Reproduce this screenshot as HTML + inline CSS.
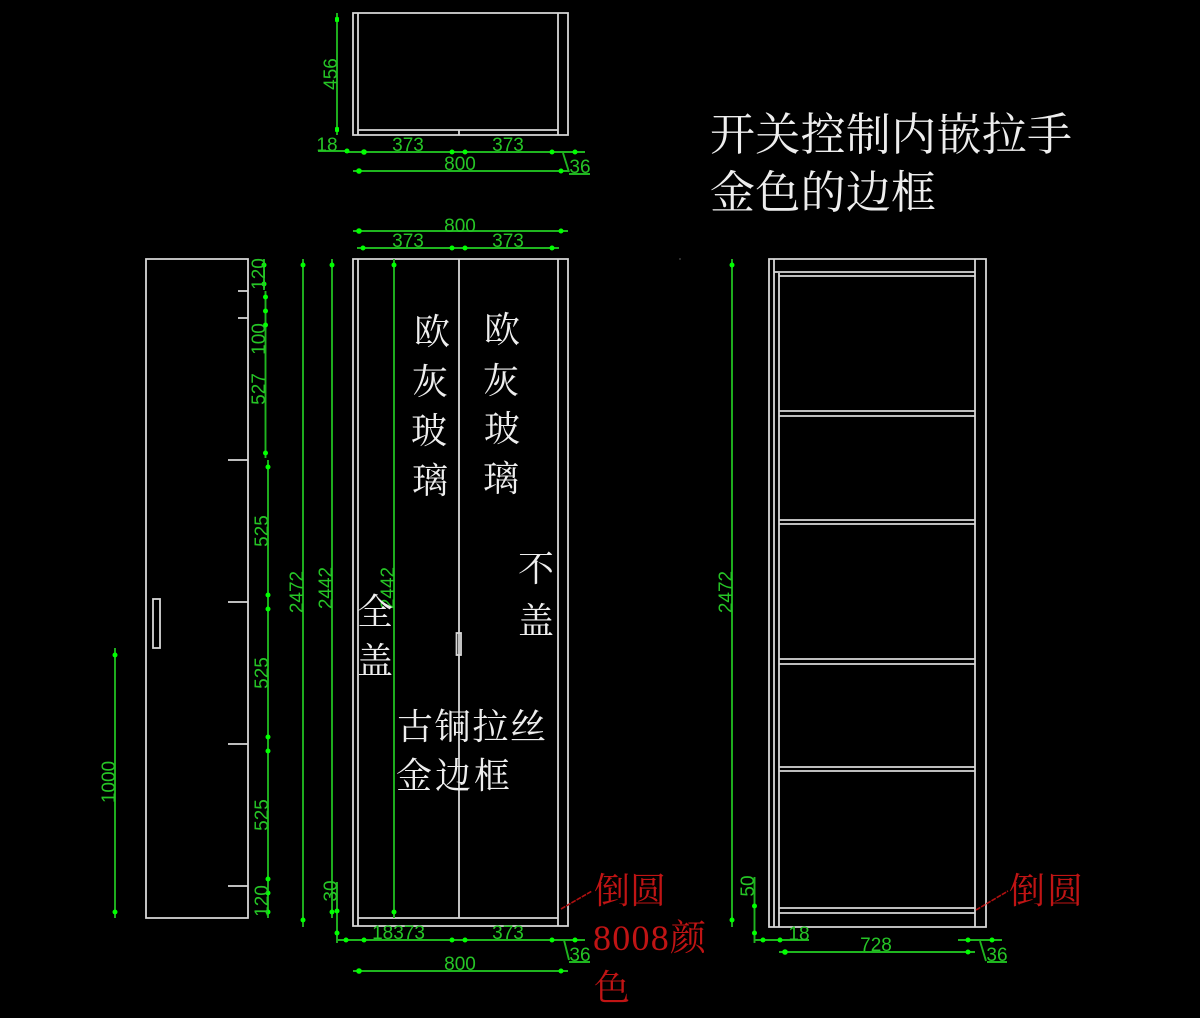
<!DOCTYPE html>
<html><head><meta charset="utf-8"><style>
html,body{margin:0;padding:0;background:#000;width:1200px;height:1018px;overflow:hidden}
svg{display:block}
.w{stroke:#d8d8d8;stroke-width:1.8;fill:none}
.g{stroke:#1fb51f;stroke-width:1.9;fill:none}
.r{stroke:#b01010;stroke-width:1.6;fill:none;stroke-dasharray:5 1}
.d{fill:#0f0}
.t{fill:#26c526;font:19px "Liberation Sans",sans-serif;text-anchor:middle}
.c{fill:#eee;font:36px "Noto Serif CJK SC","Liberation Serif",serif}
.b{fill:#eee;font:45px "Noto Serif CJK SC","Liberation Serif",serif}
.x{fill:#c01414;font:36px "Liberation Serif","Noto Serif CJK SC",serif}
</style></head><body>
<svg width="1200" height="1018" viewBox="0 0 1200 1018" xmlns="http://www.w3.org/2000/svg">
<rect width="1200" height="1018" fill="#000"/>
<!-- top view -->
<path class="w" d="M353 13H568V135H353ZM358 13V135M558 13V135M358 130H558M459 130V135"/>
<!-- front view -->
<path class="w" d="M353 259H568V926H353ZM358 259V926M558 259V926M358 918H558M459 259V918"/>
<rect class="w" x="456.500" y="633" width="4.500" height="22"/>
<!-- side view -->
<path class="w" d="M146 259H248V918H146ZM238 291H248M238 318H248M228 460H248M228 602H248M228 744H248M228 886H248"/>
<rect class="w" x="153" y="599" width="7" height="49"/>
<!-- right view -->
<path class="w" d="M769 259H986V927H769ZM774 259V927M779 273V927M975 259V927M774 272H975M779 276H975M779 411H975M779 416H975M779 520H975M779 524H975M779 659H975M779 664H975M779 767H975M779 771H975M779 908H975M779 913H975"/>
<!-- green lines -->
<path class="g" d="M337 13V135M318 151H345M345 152H585M353 171H568M569 174H590M563 153L569 172
M353 231H568M357 248H559
M264 259V290M265.500 291V458M268 460V918
M303 259V927M332 259V918M394 259V918M115 648V918
M337 882V943M337 940H585M353 971H568M569 962H590M564 940L569 960
M732 259V927M754.500 877V943M754 940H809M779 952H975M958 940H1002M980 941L986 961M987 962H1007"/>
<!-- dots -->
<g class="d">
<rect x="335" y="17" width="4" height="5" rx="1"/><rect x="335" y="127" width="4" height="5" rx="1"/>
<circle cx="347" cy="151" r="2.500"/><circle cx="364" cy="152" r="2.800"/><circle cx="452" cy="152" r="2.500"/><circle cx="465" cy="152" r="2.500"/><circle cx="552" cy="152" r="2.500"/><circle cx="575" cy="152" r="2.500"/>
<circle cx="359" cy="171" r="2.800"/><circle cx="561" cy="171" r="2.500"/>
<circle cx="359" cy="231" r="2.800"/><circle cx="561" cy="231" r="2.500"/>
<circle cx="363" cy="248" r="2.500"/><circle cx="452" cy="248" r="2.500"/><circle cx="465" cy="248" r="2.500"/><circle cx="552" cy="248" r="2.500"/>
<circle cx="264" cy="265" r="2.500"/><circle cx="264" cy="284" r="2.500"/><circle cx="265.500" cy="297" r="2.500"/><circle cx="265.500" cy="311" r="2.500"/><circle cx="265.500" cy="325" r="2.500"/><circle cx="265.500" cy="453" r="2.500"/>
<circle cx="268" cy="467" r="2.500"/><circle cx="268" cy="595" r="2.500"/><circle cx="268" cy="609" r="2.500"/><circle cx="268" cy="737" r="2.500"/><circle cx="268" cy="751" r="2.500"/><circle cx="268" cy="879" r="2.500"/><circle cx="268" cy="893" r="2.500"/><circle cx="268" cy="912" r="2.500"/>
<circle cx="303" cy="265" r="2.500"/><circle cx="303" cy="920" r="2.500"/>
<circle cx="332" cy="265" r="2.500"/><circle cx="332" cy="912" r="2.500"/>
<circle cx="394" cy="265" r="2.500"/><circle cx="394" cy="912" r="2.500"/>
<circle cx="115" cy="655" r="2.500"/><circle cx="115" cy="912" r="2.500"/>
<circle cx="337" cy="911" r="2.500"/><circle cx="337" cy="933" r="2.500"/>
<circle cx="346" cy="940" r="2.500"/><circle cx="364" cy="940" r="2.500"/><circle cx="452" cy="940" r="2.500"/><circle cx="465" cy="940" r="2.500"/><circle cx="552" cy="940" r="2.500"/><circle cx="575" cy="940" r="2.500"/>
<circle cx="359" cy="971" r="2.800"/><circle cx="561" cy="971" r="2.500"/>
<circle cx="732" cy="265" r="2.500"/><circle cx="732" cy="920" r="2.500"/>
<circle cx="754.500" cy="906" r="2.500"/><circle cx="754.500" cy="933" r="2.500"/>
<circle cx="763" cy="940" r="2.500"/><circle cx="780" cy="940" r="2.500"/>
<circle cx="785" cy="952" r="2.800"/><circle cx="968" cy="952" r="2.500"/>
<circle cx="968" cy="940" r="2.500"/><circle cx="992" cy="940" r="2.500"/>
</g>
<!-- green text -->
<g class="t">
<text transform="translate(337 74) rotate(-90)">456</text>
<text x="327" y="151">18</text>
<text x="408" y="151">373</text><text x="508" y="151">373</text>
<text x="460" y="170">800</text><text x="580" y="173">36</text>
<text x="460" y="232">800</text>
<text x="408" y="247">373</text><text x="508" y="247">373</text>
<text transform="translate(265 274) rotate(-90)">120</text>
<text transform="translate(265 339) rotate(-90)">100</text>
<text transform="translate(265 389) rotate(-90)">527</text>
<text transform="translate(268 531) rotate(-90)">525</text>
<text transform="translate(268 673) rotate(-90)">525</text>
<text transform="translate(268 815) rotate(-90)">525</text>
<text transform="translate(268 901) rotate(-90)">120</text>
<text transform="translate(303 592) rotate(-90)">2472</text>
<text transform="translate(332 588) rotate(-90)">2442</text>
<text transform="translate(394 588) rotate(-90)">2442</text>
<text transform="translate(115 782) rotate(-90)">1000</text>
<text transform="translate(337 891) rotate(-90)">30</text>
<text x="398.500" y="939">18373</text><text x="508" y="939">373</text>
<text x="580" y="961">36</text><text x="460" y="970">800</text>
<text transform="translate(732 592) rotate(-90)">2472</text>
<text transform="translate(754 886) rotate(-90)">50</text>
<text x="799" y="940">18</text><text x="876" y="951">728</text><text x="997" y="961">36</text>
</g>
<!-- white text -->
<text class="b" x="710" y="150" textLength="362">开关控制内嵌拉手</text>
<text class="b" x="710" y="208" textLength="226">金色的边框</text>
<g class="c">
<text x="414" y="344">欧</text><text x="412" y="394">灰</text><text x="411" y="443">玻</text><text x="412" y="493">璃</text>
<text x="484" y="342">欧</text><text x="483" y="393">灰</text><text x="484" y="441">玻</text><text x="483" y="491">璃</text>
<text x="518" y="581">不</text><text x="518" y="633">盖</text>
<text x="357" y="624">全</text><text x="357" y="673">盖</text>
<text x="397" y="739" textLength="149">古铜拉丝</text>
<text x="396" y="788" textLength="114">金边框</text>
</g>
<!-- red -->
<path class="r" d="M561 909L592 891"/>
<path class="r" d="M976 910L1008 891"/>
<g class="x">
<text x="594" y="903" textLength="72">倒圆</text>
<text x="593" y="950" textLength="113">8008颜</text>
<text x="594" y="1000">色</text>
<text x="1009" y="903" textLength="74">倒圆</text>
</g>
<circle cx="680" cy="259" r=".6" fill="#999"/>
</svg>
</body></html>
